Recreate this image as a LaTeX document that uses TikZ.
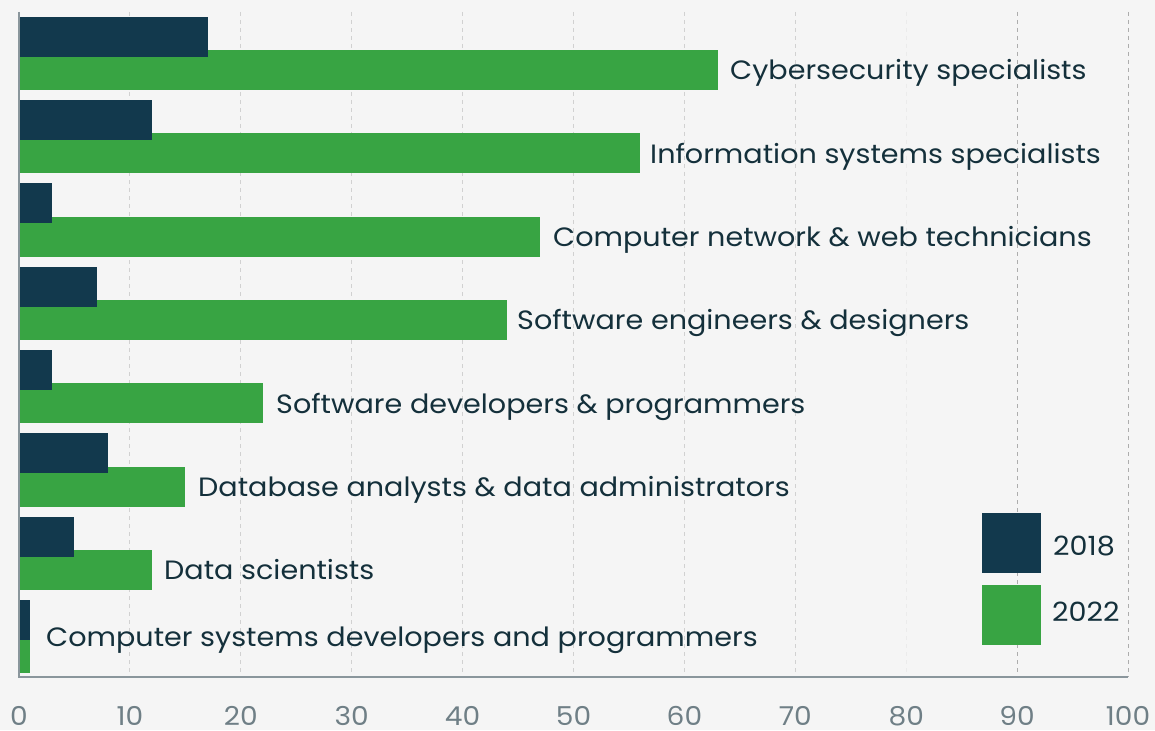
\documentclass[tikz,border=0pt]{standalone}
\usepackage{fontspec}
\setmainfont{Poppins}[FakeStretch=1.08]
\definecolor{bg}{HTML}{F5F5F5}
\definecolor{navy}{HTML}{12394D}
\definecolor{grn}{HTML}{38A443}
\definecolor{txt}{HTML}{14303B}
\definecolor{tickc}{HTML}{6F7F86}
\definecolor{axisc}{HTML}{8A969C}
\begin{document}
\begin{tikzpicture}[x=1pt,y=-1pt,
  gridln/.style={draw=black!18,line width=0.9pt,dash pattern=on 4pt off 4pt},
  axisln/.style={draw=axisc,line width=1.6pt},
  barold/.style={fill=navy},
  barnew/.style={fill=grn},
  catlabel/.style={font=\fontsize{26.5}{30}\selectfont,text=txt,inner sep=0pt,anchor=base west},
  ticklabel/.style={font=\fontsize{26}{30}\selectfont,text=tickc,inner sep=0pt,anchor=base},
  leglabel/.style={font=\fontsize{26.5}{30}\selectfont,text=txt,inner sep=0pt,anchor=base west}]
\fill[bg] (0,0) rectangle (1155,730);
\useasboundingbox (0,0) rectangle (1155,730);
% grid
\foreach \v in {1,...,7}{
  \draw[gridln] ({19+110.9*\v},12) -- ({19+110.9*\v},677);
}
\draw[gridln,draw=black!8] ({19+110.9*8},12) -- ({19+110.9*8},677);
\foreach \v in {9,10}{
  \draw[gridln,draw=black!32] ({19+110.9*\v},12) -- ({19+110.9*\v},677);
}
% bars
\foreach \i/\a/\b/\lx/\lab in {
  0/17/63/730/{Cybersecurity specialists},
  1/12/56/650/{Information systems specialists},
  2/3/47/553/{Computer network \& web technicians},
  3/7/44/517/{Software engineers \& designers},
  4/3/22/276/{Software developers \& programmers},
  5/8/15/198/{Database analysts \& data administrators},
  6/5/12/164/{Data scientists}}{
  \fill[barnew] (19,{50+83.33*\i}) rectangle ({19+11.09*\b},{90+83.33*\i});
  \fill[barold] (19,{16.7+83.33*\i}) rectangle ({19+11.09*\a},{56.7+83.33*\i});
  \node[catlabel] (lab\i) at (\lx,{80+83.33*\i}) {\lab};
}
\fill[barnew] (19,633.3) rectangle ({19+11.09},673.3);
\fill[barold] (19,600) rectangle ({19+11.09},640);
\node[catlabel] (lab7) at (46,646) {Computer systems developers and programmers};
% axes
\draw[axisln] (19,12) coordinate (ytop) -- (19,677) coordinate (origin) -- (1128,677) coordinate (xend);
% ticks
\foreach \v in {0,1,...,10}{
  \pgfmathtruncatemacro{\t}{10*\v}
  \node[ticklabel] (tick\v) at ({19+110.9*\v},725) {\t};
}
% legend
\fill[barold] (981.7,513.3) rectangle (1041,573.3);
\fill[barnew] (981.7,585) rectangle (1041,645);
\node[leglabel] (leg18) at (1053,555) {2018};
\node[leglabel] (leg22) at (1052,621) {2022};
\end{tikzpicture}
\end{document}
